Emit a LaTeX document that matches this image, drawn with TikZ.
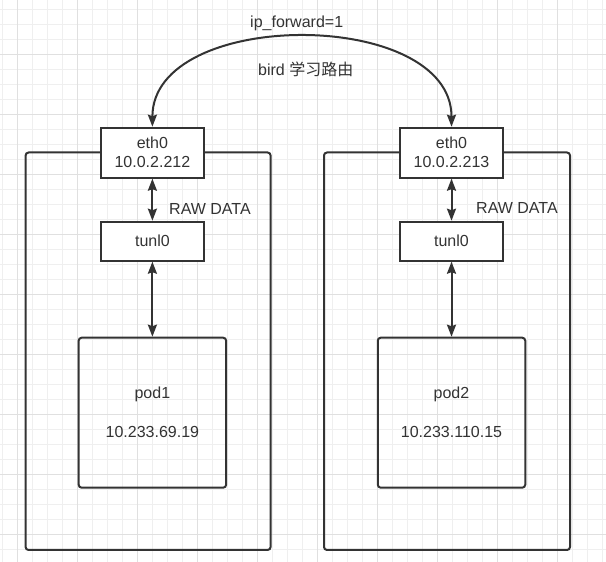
\documentclass[tikz,border=0pt]{standalone}
\usepackage{fontspec}
\setmainfont{Liberation Sans}
\newfontfamily\cjk{Noto Sans CJK SC}
\usepackage{xcolor}
\usepackage{tikz}
\usetikzlibrary{positioning,arrows.meta}

\definecolor{linec}{HTML}{333333}
\definecolor{gridminor}{HTML}{EFEFEF}
\definecolor{gridmajor}{HTML}{E0E0E0}

\begin{document}
\begin{tikzpicture}[x=1pt,y=1pt,
		every node/.style={font=\fontsize{16}{19}\selectfont, text=linec},
		hostbox/.style={draw=linec, line width=2pt, rounded corners=3pt, inner sep=0pt},
		ifbox/.style={draw=linec, line width=2pt, fill=white, minimum width=103pt, align=center, inner sep=0pt},
		podbox/.style={draw=linec, line width=2pt, rounded corners=3pt, minimum width=147.5pt, minimum height=150pt, align=center},
		link/.style={draw=linec, line width=2pt, {Stealth[length=12pt,width=9pt,inset=1.5pt]}-{Stealth[length=12pt,width=9pt,inset=1.5pt]}}]
			
			% nền lưới
			\useasboundingbox (0,0) rectangle (606,562);
			\fill[white] (0,0) rectangle (606,562);
			\foreach \x in {2,17,...,602} { \draw[gridminor, line width=0.8pt] (\x,0) -- (\x,562); }
			\foreach \y in {553,538,...,0} { \draw[gridminor, line width=0.8pt] (0,\y) -- (606,\y); }
			\foreach \x in {17,77,...,557} { \draw[gridmajor, line width=0.8pt] (\x,0) -- (\x,562); }
			\foreach \y in {508,448,...,28} { \draw[gridmajor, line width=0.8pt] (0,\y) -- (606,\y); }
			
			% hai máy
			\node[hostbox, minimum width=245pt, minimum height=397.5pt] (host1) at (148.1,210.75) {};
			\node[hostbox, minimum width=246pt, minimum height=397.5pt] (host2) at (447,210.75) {};
			
			% giao diện máy 1
			\node[ifbox, minimum height=50pt] (eth1) at (152.4,409.3) {eth0\\10.0.2.212};
			\node[ifbox, minimum height=39pt, below=42pt of eth1] (tunl1) {tunl0};
			\node[podbox, below=75pt of tunl1] (pod1) {pod1\\[20pt]10.233.69.19};
			
			% giao diện máy 2
			\node[ifbox, minimum height=50pt] (eth2) at (451.5,409.3) {eth0\\10.0.2.213};
			\node[ifbox, minimum height=39pt, below=42pt of eth2] (tunl2) {tunl0};
			\node[podbox, below=75pt of tunl2] (pod2) {pod2\\[20pt]10.233.110.15};
			
			% mũi tên
			\draw[link] (eth1) -- (tunl1);
			\draw[link] (tunl1) -- (pod1);
			\draw[link] (eth2) -- (tunl2);
			\draw[link] (tunl2) -- (pod2);
			\draw[link] (eth1.north) to[out=90,in=90,looseness=1.02] (eth2.north);
			
			% nhãn
			\node[anchor=west, inner sep=0pt] (raw1) at (169,353.3) {RAW DATA};
			\node[anchor=west, inner sep=0pt] (raw2) at (476,353.7) {RAW DATA};
			\node (fwd) at (296.7,538.7) {ip\_forward=1};
			\node (bird) at (305.7,493) {bird {\cjk 学习路由}};
		\end{tikzpicture}
\end{document}
